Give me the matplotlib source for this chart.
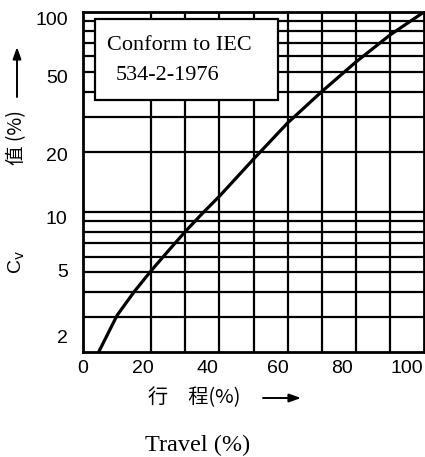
import matplotlib
matplotlib.use("Agg")
import matplotlib.pyplot as plt
from matplotlib.patches import FancyArrowPatch

# valve travel (%) and flow coefficient Cv (%)
travel = [4.6, 10, 15, 20, 25, 30, 35, 40, 50, 60, 70, 80, 90, 100]
cv = [2.0, 3.05, 4.0, 5.1, 6.4, 8.0, 9.85, 12.0, 18.4, 27.9, 40.0, 56.2, 76.7, 100.0]

x_grid = [20, 30, 40, 50, 60, 70, 80, 90]
y_grid = [3, 4, 5, 6, 7, 8, 9, 10, 20, 30, 40, 50, 60, 70, 80, 90]

x_ticklabels = ["0", "20", "40", "60", "80", "100"]
y_ticklabels = ["2", "5", "10", "20", "50", "100"]

W, H = 425, 457
# printed tick labels sit a little off the ruled grid
x_label_at = [0, 17.6, 36.4, 57.2, 75.9, 94.9]
y_label_at = [2.4, 5.1, 9.4, 19.4, 47.4, 93]


def fx(px):
    return px / W


def fy(py):
    return 1 - py / H


def arrow(x0, y0, x1, y1):
    fig.add_artist(FancyArrowPatch(
        (fx(x0), fy(y0)), (fx(x1), fy(y1)), transform=fig.transFigure,
        arrowstyle="-|>,head_length=7,head_width=2.5", color="black",
        lw=1.4, shrinkA=0, shrinkB=0))


fig = plt.figure(figsize=(W / 100, H / 100), dpi=100)
ax = fig.add_axes([fx(83), fy(352), fx(424) - fx(83), fy(12) - fy(352)])

ax.set_yscale("log")
ax.set_xlim(0, 100)
ax.set_ylim(2, 100)

for xv in x_grid:
    ax.axvline(xv, color="black", lw=1.6, zorder=1)
for yv in y_grid:
    ax.axhline(yv, color="black", lw=1.6, zorder=1)

ax.plot(travel, cv, color="black", lw=2.3, zorder=3, solid_capstyle="round",
        solid_joinstyle="round")

for s in ax.spines.values():
    s.set_linewidth(2.0)

ax.minorticks_off()
ax.set_xticks(x_label_at, x_ticklabels)
ax.set_yticks(y_label_at, y_ticklabels)
ax.tick_params(length=0, labelsize=14, labelfontfamily="Liberation Sans")
ax.tick_params(axis="x", pad=6)
ax.tick_params(axis="y", pad=11)

# standard reference box
box = plt.Rectangle((fx(95), fy(100)), fx(278) - fx(95), fy(19) - fy(100),
                    transform=fig.transFigure, facecolor="white",
                    edgecolor="black", lw=1.6, zorder=4)
fig.add_artist(box)
fig.text(fx(179), fy(46), "Conform to IEC", ha="center", va="center",
         family="Liberation Serif", fontsize=16, zorder=5)
fig.text(fx(116), fy(75), "534-2-1976", ha="left", va="center",
         family="Liberation Serif", fontsize=16, zorder=5)

# y axis caption
fig.text(fx(17), fy(262), r"C$_\mathrm{v}$", rotation=90, ha="center",
         va="center", family="Liberation Sans", fontsize=14)
fig.text(fx(17), fy(138), "值 (%)", rotation=90, ha="center", va="center",
         family=["Noto Sans CJK SC", "DejaVu Sans"], fontsize=14)
arrow(17, 97, 17, 47)

# x axis captions
fig.text(fx(148), fy(398), "行　程(%)", ha="left", va="center",
         family=["Noto Sans CJK SC", "DejaVu Sans"], fontsize=14.5)
arrow(263, 398, 301, 398)
fig.text(fx(198), fy(445), "Travel (%)", ha="center", va="center",
         family="Liberation Serif", fontsize=17.5)

fig.savefig("out.png", dpi=100)
